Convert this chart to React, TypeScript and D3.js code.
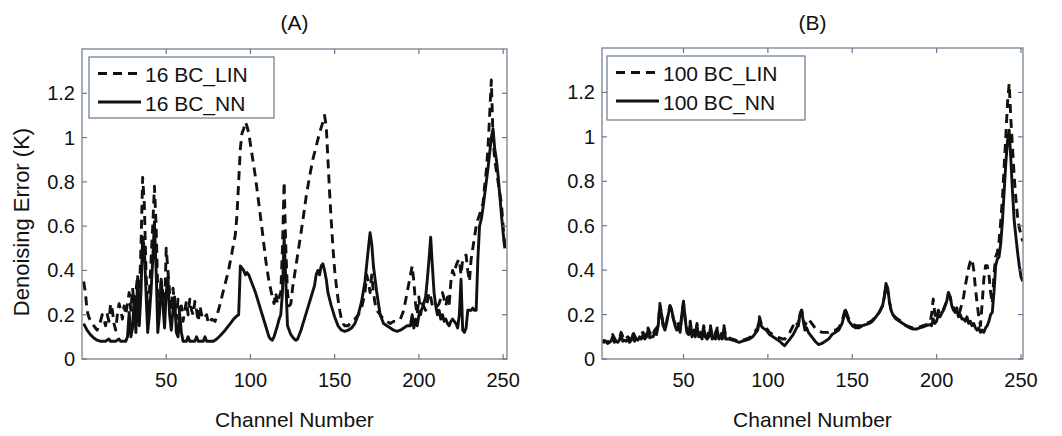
import React from 'react';
import * as d3 from 'd3';

const xTicks = [50, 100, 150, 200, 250];
const yTicks = [0, 0.2, 0.4, 0.6, 0.8, 1, 1.2];
const yTickLabels = ['0', '0.2', '0.4', '0.6', '0.8', '1', '1.2'];
const panelTitles = ['(A)', '(B)'];
const legendA = ['16 BC_LIN', '16 BC_NN'];
const legendB = ['100 BC_LIN', '100 BC_NN'];
const xLabel = 'Channel Number';
const yLabel = 'Denoising Error (K)';

type P = [number, number];

const linA: P[] = [[1,0.35],[2,0.3],[3,0.22],[4,0.19],[6,0.16],[8,0.14],[9,0.13],[10,0.15],[11,0.17],[12,0.2],[13,0.18],[14,0.15],[15,0.2],[16,0.17],[17,0.25],[18,0.22],[19,0.16],[20,0.13],[21,0.2],[22,0.25],[23,0.22],[24,0.18],[25,0.24],[26,0.2],[27,0.25],[28,0.3],[29,0.22],[30,0.32],[31,0.25],[32,0.3],[33,0.38],[34,0.28],[35,0.5],[36,0.82],[37,0.7],[38,0.4],[39,0.2],[40,0.3],[41,0.45],[42,0.6],[43,0.78],[44,0.6],[45,0.3],[46,0.25],[47,0.35],[48,0.3],[49,0.22],[50,0.5],[51,0.4],[52,0.3],[53,0.22],[54,0.32],[55,0.25],[56,0.18],[57,0.27],[58,0.2],[59,0.24],[60,0.17],[61,0.22],[62,0.26],[63,0.2],[64,0.27],[65,0.22],[66,0.2],[67,0.26],[68,0.22],[69,0.17],[70,0.24],[71,0.2],[72,0.18],[74,0.2],[75,0.16],[77,0.18],[79,0.17],[81,0.22],[83,0.28],[85,0.34],[87,0.4],[89,0.48],[91,0.56],[92,0.65],[93,0.8],[94,0.95],[95,1.02],[96,1.04],[97,1.07],[98,1.05],[99,1.02],[100,0.97],[101,0.92],[103,0.82],[105,0.7],[107,0.58],[109,0.45],[111,0.35],[113,0.28],[114,0.25],[115,0.3],[116,0.25],[117,0.28],[118,0.3],[119,0.5],[120,0.8],[121,0.5],[122,0.3],[123,0.24],[124,0.25],[125,0.32],[127,0.42],[129,0.52],[131,0.62],[133,0.73],[135,0.82],[137,0.9],[139,0.96],[141,1.02],[143,1.07],[144,1.1],[145,1.05],[146,0.9],[147,0.75],[148,0.62],[149,0.5],[150,0.4],[151,0.33],[152,0.27],[153,0.22],[154,0.18],[155,0.16],[156,0.15],[158,0.15],[160,0.17],[162,0.18],[164,0.2],[166,0.23],[168,0.3],[169,0.38],[170,0.35],[171,0.3],[172,0.38],[173,0.3],[174,0.25],[175,0.22],[177,0.2],[179,0.18],[181,0.17],[183,0.16],[185,0.17],[187,0.17],[189,0.18],[191,0.22],[193,0.3],[195,0.38],[196,0.42],[197,0.35],[198,0.25],[199,0.2],[200,0.28],[201,0.2],[202,0.25],[204,0.22],[206,0.3],[207,0.28],[208,0.24],[210,0.23],[212,0.25],[214,0.3],[215,0.27],[216,0.24],[217,0.28],[218,0.25],[219,0.35],[220,0.4],[221,0.38],[222,0.42],[223,0.44],[224,0.45],[225,0.38],[226,0.45],[227,0.46],[228,0.47],[229,0.4],[230,0.35],[231,0.45],[232,0.5],[233,0.55],[234,0.6],[235,0.63],[236,0.65],[237,0.68],[238,0.7],[239,0.78],[240,0.85],[241,0.95],[242,1.1],[243,1.26],[244,1.0],[245,0.9],[246,0.85],[247,0.8],[248,0.75],[249,0.7],[250,0.6],[251,0.5]];

const nnA: P[] = [[1,0.16],[3,0.13],[5,0.11],[7,0.095],[9,0.085],[11,0.08],[14,0.08],[16,0.09],[17,0.08],[20,0.08],[22,0.09],[23,0.08],[26,0.08],[27,0.1],[28,0.21],[29,0.1],[30,0.14],[31,0.28],[32,0.12],[33,0.36],[34,0.15],[35,0.3],[36,0.55],[37,0.5],[38,0.3],[39,0.12],[40,0.2],[41,0.31],[42,0.45],[43,0.62],[44,0.4],[45,0.12],[46,0.2],[47,0.36],[48,0.25],[49,0.14],[50,0.3],[51,0.37],[52,0.2],[53,0.13],[54,0.22],[55,0.28],[56,0.12],[57,0.1],[58,0.2],[59,0.12],[60,0.08],[62,0.08],[63,0.1],[64,0.08],[67,0.08],[68,0.1],[69,0.08],[72,0.08],[73,0.1],[74,0.08],[78,0.08],[80,0.09],[82,0.105],[85,0.13],[88,0.16],[90,0.18],[92,0.195],[93,0.2],[94,0.42],[95,0.41],[96,0.4],[97,0.38],[98,0.39],[99,0.38],[101,0.34],[103,0.3],[105,0.25],[107,0.2],[109,0.15],[111,0.1],[112,0.09],[113,0.085],[114,0.1],[116,0.15],[117,0.18],[118,0.2],[119,0.3],[120,0.55],[121,0.35],[122,0.15],[124,0.11],[126,0.09],[127,0.085],[128,0.09],[130,0.13],[132,0.18],[134,0.23],[136,0.28],[138,0.33],[139,0.38],[140,0.4],[141,0.38],[142,0.42],[143,0.43],[144,0.4],[145,0.36],[146,0.3],[148,0.24],[150,0.19],[152,0.15],[154,0.13],[156,0.125],[158,0.13],[160,0.14],[162,0.16],[164,0.2],[166,0.26],[168,0.35],[170,0.5],[171,0.57],[172,0.52],[173,0.42],[175,0.3],[177,0.2],[179,0.16],[181,0.15],[183,0.14],[185,0.13],[187,0.125],[189,0.13],[191,0.14],[193,0.15],[195,0.15],[196,0.2],[197,0.14],[198,0.18],[199,0.15],[200,0.2],[202,0.23],[204,0.28],[205,0.36],[206,0.45],[207,0.55],[208,0.42],[209,0.3],[210,0.24],[211,0.2],[212,0.22],[213,0.18],[214,0.2],[215,0.17],[216,0.18],[217,0.16],[218,0.15],[219,0.17],[220,0.18],[221,0.17],[222,0.16],[223,0.14],[224,0.2],[225,0.36],[226,0.13],[227,0.12],[228,0.14],[229,0.22],[230,0.22],[231,0.22],[232,0.23],[233,0.22],[234,0.22],[235,0.45],[236,0.6],[237,0.63],[238,0.68],[239,0.74],[240,0.8],[241,0.86],[242,0.93],[243,1.0],[244,1.04],[245,0.95],[246,0.9],[247,0.83],[248,0.74],[249,0.65],[250,0.57],[251,0.5]];

const linB: P[] = [[2,0.085],[4,0.08],[6,0.075],[8,0.11],[10,0.08],[12,0.09],[13,0.12],[15,0.085],[17,0.1],[19,0.085],[20,0.12],[22,0.09],[24,0.11],[26,0.12],[28,0.1],[29,0.14],[31,0.1],[33,0.13],[35,0.15],[36,0.25],[37,0.2],[38,0.15],[39,0.14],[40,0.17],[41,0.21],[42,0.24],[43,0.22],[44,0.18],[45,0.16],[46,0.14],[47,0.16],[48,0.13],[49,0.2],[50,0.25],[51,0.18],[52,0.13],[53,0.12],[54,0.17],[55,0.11],[56,0.13],[57,0.11],[58,0.16],[59,0.11],[60,0.12],[61,0.1],[62,0.15],[63,0.1],[64,0.1],[66,0.15],[67,0.1],[68,0.1],[70,0.14],[71,0.1],[72,0.1],[74,0.15],[75,0.1],[77,0.095],[79,0.09],[81,0.085],[83,0.08],[85,0.085],[87,0.09],[89,0.095],[91,0.11],[93,0.13],[94,0.14],[95,0.19],[96,0.16],[97,0.15],[99,0.14],[101,0.12],[103,0.11],[105,0.1],[107,0.095],[109,0.09],[110,0.09],[111,0.1],[113,0.12],[115,0.15],[116,0.17],[117,0.16],[118,0.15],[119,0.2],[120,0.22],[121,0.18],[122,0.15],[123,0.17],[124,0.18],[126,0.16],[128,0.14],[130,0.13],[132,0.12],[134,0.12],[136,0.12],[138,0.13],[140,0.13],[142,0.14],[144,0.17],[145,0.2],[146,0.23],[147,0.2],[148,0.18],[150,0.16],[152,0.15],[154,0.15],[156,0.15],[158,0.16],[160,0.165],[162,0.175],[164,0.19],[166,0.21],[168,0.24],[169,0.28],[170,0.33],[171,0.31],[172,0.26],[173,0.22],[174,0.2],[176,0.185],[178,0.175],[180,0.16],[182,0.15],[184,0.145],[186,0.14],[188,0.14],[190,0.145],[192,0.15],[194,0.155],[196,0.16],[197,0.2],[198,0.27],[199,0.2],[200,0.18],[201,0.22],[202,0.2],[204,0.22],[206,0.26],[207,0.29],[208,0.28],[209,0.25],[210,0.23],[211,0.22],[212,0.23],[213,0.2],[214,0.22],[215,0.25],[216,0.28],[217,0.33],[218,0.37],[219,0.41],[220,0.44],[221,0.45],[222,0.4],[223,0.32],[224,0.25],[225,0.19],[226,0.15],[227,0.25],[228,0.36],[229,0.42],[230,0.42],[231,0.38],[232,0.3],[233,0.25],[234,0.38],[235,0.46],[236,0.48],[237,0.53],[238,0.62],[239,0.72],[240,0.86],[241,1.0],[242,1.15],[243,1.24],[244,1.08],[245,0.95],[246,0.82],[247,0.72],[248,0.64],[249,0.59],[250,0.56],[251,0.53]];

const nnB: P[] = [[2,0.08],[3,0.075],[4,0.08],[5,0.07],[6,0.075],[7,0.08],[8,0.1],[9,0.075],[10,0.08],[11,0.075],[12,0.085],[13,0.11],[14,0.08],[15,0.085],[16,0.08],[17,0.09],[18,0.075],[19,0.085],[20,0.11],[21,0.08],[22,0.09],[23,0.085],[24,0.1],[25,0.09],[26,0.11],[27,0.09],[28,0.1],[29,0.13],[30,0.095],[31,0.1],[32,0.1],[33,0.12],[34,0.11],[35,0.15],[36,0.24],[37,0.2],[38,0.15],[39,0.13],[40,0.16],[41,0.2],[42,0.24],[43,0.22],[44,0.18],[45,0.15],[46,0.13],[47,0.15],[48,0.12],[49,0.2],[50,0.26],[51,0.18],[52,0.12],[53,0.11],[54,0.16],[55,0.1],[56,0.12],[57,0.1],[58,0.15],[59,0.1],[60,0.11],[61,0.09],[62,0.14],[63,0.1],[64,0.09],[65,0.1],[66,0.14],[67,0.09],[68,0.1],[69,0.09],[70,0.13],[71,0.09],[72,0.1],[73,0.09],[74,0.14],[75,0.09],[77,0.09],[79,0.085],[81,0.08],[83,0.075],[85,0.08],[87,0.085],[89,0.09],[91,0.1],[93,0.12],[94,0.13],[95,0.18],[96,0.15],[97,0.14],[99,0.13],[101,0.11],[103,0.1],[105,0.09],[107,0.08],[109,0.065],[110,0.06],[111,0.07],[113,0.09],[115,0.11],[117,0.14],[118,0.15],[119,0.2],[120,0.22],[121,0.17],[122,0.13],[123,0.14],[124,0.12],[126,0.1],[128,0.08],[130,0.065],[132,0.07],[134,0.08],[136,0.09],[138,0.11],[140,0.12],[142,0.13],[144,0.16],[145,0.19],[146,0.22],[147,0.19],[148,0.17],[150,0.15],[152,0.14],[154,0.14],[156,0.15],[158,0.155],[160,0.16],[162,0.17],[164,0.19],[166,0.21],[168,0.24],[169,0.28],[170,0.34],[171,0.32],[172,0.26],[173,0.22],[174,0.2],[176,0.18],[178,0.17],[180,0.16],[182,0.15],[184,0.14],[186,0.135],[188,0.135],[190,0.14],[192,0.145],[194,0.15],[196,0.155],[197,0.15],[198,0.18],[199,0.16],[200,0.17],[201,0.2],[202,0.19],[204,0.22],[206,0.26],[207,0.3],[208,0.28],[209,0.24],[210,0.22],[211,0.21],[212,0.22],[213,0.19],[214,0.2],[215,0.18],[216,0.18],[217,0.17],[218,0.19],[219,0.16],[220,0.17],[221,0.15],[222,0.16],[223,0.14],[224,0.13],[225,0.14],[226,0.12],[227,0.13],[228,0.12],[229,0.14],[230,0.15],[231,0.17],[232,0.2],[233,0.21],[234,0.3],[235,0.42],[236,0.45],[237,0.46],[238,0.52],[239,0.62],[240,0.75],[241,0.88],[242,0.98],[243,1.03],[244,0.9],[245,0.75],[246,0.62],[247,0.55],[248,0.48],[249,0.42],[250,0.37],[251,0.35]];

const FONT = 'Liberation Sans, Arial, Helvetica, sans-serif';
const FRAME = '#6a7888';
const INK = '#111';
const LW = 2.9;

interface PanelCfg {
  title: string;
  left: number; right: number; top: number; bottom: number;
  xDomain: [number, number];
  lin: P[]; nn: P[];
  legend: string[];
  box: [number, number, number, number];
  showYLabel: boolean;
}

const panels: PanelCfg[] = [
  { title: panelTitles[0], left: 82, right: 507, top: 49, bottom: 359, xDomain: [0, 252.3], lin: linA, nn: nnA, legend: legendA, box: [89, 57, 274, 118], showYLabel: true },
  { title: panelTitles[1], left: 602, right: 1023, top: 48, bottom: 359, xDomain: [1.7, 251.2], lin: linB, nn: nnB, legend: legendB, box: [607, 56, 805, 120], showYLabel: false },
];

function Panel({ cfg, idx }: { cfg: PanelCfg; idx: number }) {
  const x = d3.scaleLinear().domain(cfg.xDomain).range([cfg.left, cfg.right]);
  const y = d3.scaleLinear().domain([0, 1.4]).range([cfg.bottom, cfg.top]);
  const line = d3.line<P>().x(d => x(d[0])).y(d => y(d[1]));
  const cx = (cfg.left + cfg.right) / 2;
  const tl = 5;
  const [bx0, by0, bx1, by1] = cfg.box;
  const clipId = `clip${idx}`;
  return (
    <g>
      <defs>
        <clipPath id={clipId}>
          <rect x={cfg.left} y={cfg.top} width={cfg.right - cfg.left} height={cfg.bottom - cfg.top} />
        </clipPath>
      </defs>
      <text x={cx} y={30} textAnchor="middle" fontSize={21} fontFamily={FONT} fill={INK}>{cfg.title}</text>
      <g clipPath={`url(#${clipId})`} fill="none" stroke={INK} strokeWidth={LW} strokeLinejoin="round">
        <path d={line(cfg.lin) || ''} strokeDasharray="9,6" />
        <path d={line(cfg.nn) || ''} />
      </g>
      <rect x={cfg.left} y={cfg.top} width={cfg.right - cfg.left} height={cfg.bottom - cfg.top} fill="none" stroke={FRAME} strokeWidth={1.2} />
      {xTicks.map(t => (
        <g key={'x' + t}>
          <line x1={x(t)} x2={x(t)} y1={cfg.bottom} y2={cfg.bottom - tl} stroke={FRAME} strokeWidth={1.2} />
          <line x1={x(t)} x2={x(t)} y1={cfg.top} y2={cfg.top + tl} stroke={FRAME} strokeWidth={1.2} />
          <text x={x(t)} y={387} textAnchor="middle" fontSize={20} fontFamily={FONT} fill={INK}>{t}</text>
        </g>
      ))}
      {yTicks.map((t, i) => (
        <g key={'y' + t}>
          <line x1={cfg.left} x2={cfg.left + tl} y1={y(t)} y2={y(t)} stroke={FRAME} strokeWidth={1.2} />
          <line x1={cfg.right} x2={cfg.right - tl} y1={y(t)} y2={y(t)} stroke={FRAME} strokeWidth={1.2} />
          <text x={cfg.left - 7} y={y(t) + 7} textAnchor="end" fontSize={20} fontFamily={FONT} fill={INK}>{yTickLabels[i]}</text>
        </g>
      ))}
      <text x={cx} y={427} textAnchor="middle" fontSize={21} fontFamily={FONT} fill={INK}>{xLabel}</text>
      {cfg.showYLabel && (
        <text transform={`translate(29,222) rotate(-90)`} textAnchor="middle" fontSize={22} fontFamily={FONT} fill={INK}>{yLabel}</text>
      )}
      <rect x={bx0} y={by0} width={bx1 - bx0} height={by1 - by0} fill="#fff" stroke={FRAME} strokeWidth={1.2} />
      <line x1={bx0 + 9} x2={bx0 + 52} y1={by0 + 16.5} y2={by0 + 16.5} stroke={INK} strokeWidth={LW} strokeDasharray="9,6" />
      <line x1={bx0 + 9} x2={bx0 + 52} y1={by0 + 45} y2={by0 + 45} stroke={INK} strokeWidth={LW} />
      <text x={bx0 + 56} y={by0 + 24.5} fontSize={21} fontFamily={FONT} fill={INK}>{cfg.legend[0]}</text>
      <text x={bx0 + 56} y={by0 + 54} fontSize={21} fontFamily={FONT} fill={INK}>{cfg.legend[1]}</text>
    </g>
  );
}

export default function App() {
  return (
    <svg width={1062} height={436} style={{ position: 'absolute', left: 0, top: 0, background: '#fff' }}>
      <rect width={1062} height={436} fill="#fff" />
      {panels.map((p, i) => <Panel key={i} cfg={p} idx={i} />)}
    </svg>
  );
}
